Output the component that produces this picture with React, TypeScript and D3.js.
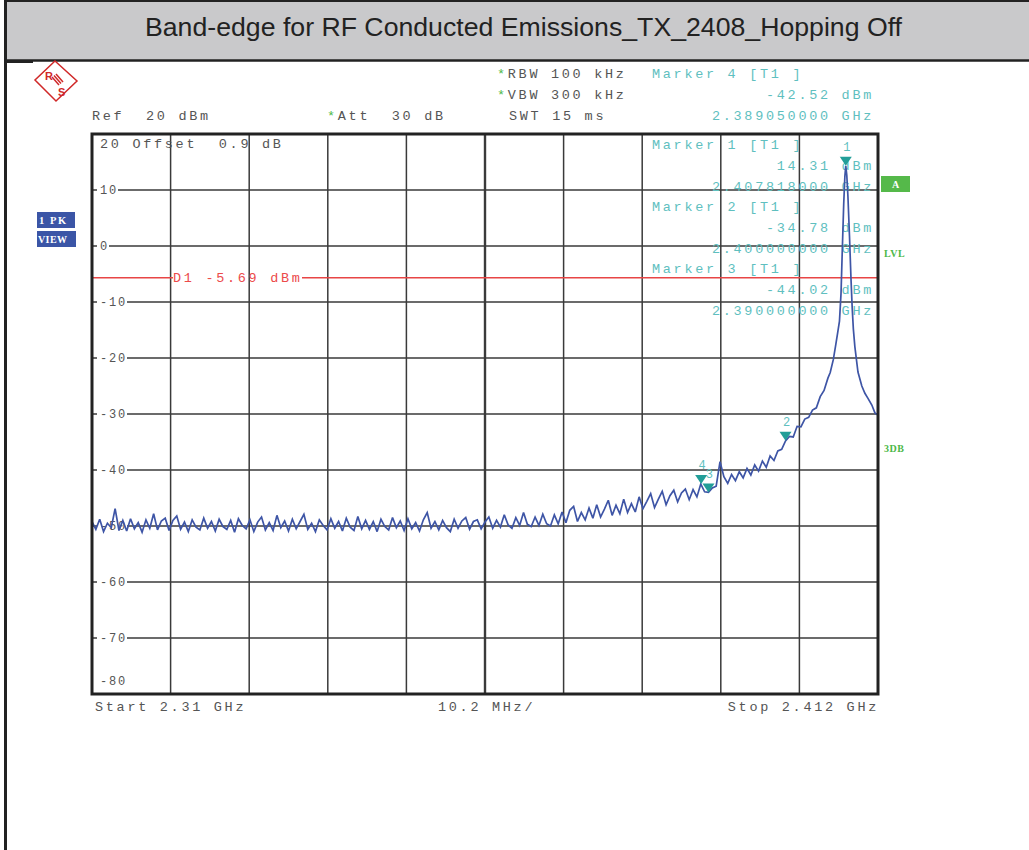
import * as d3 from 'd3';

// chart title and instrument settings
const title = 'Band-edge for RF Conducted Emissions_TX_2408_Hopping Off';
const headerLeft = ['Ref  20 dBm'];
const headerSettings = ['RBW 100 kHz', 'VBW 300 kHz'];
const attText = 'Att  30 dB';
const swtText = 'SWT 15 ms';
const offsetText = '20 Offset  0.9 dB';
const footer = ['Start 2.31 GHz', '10.2 MHz/', 'Stop 2.412 GHz'];

// frequency axis (MHz) and level axis (dBm)
const freqDomain = [2310, 2412];
const levelDomain = [-80, 20];
const gridFreqs = [2310, 2320.2, 2330.4, 2340.6, 2350.8, 2361, 2371.2, 2381.4, 2391.6, 2401.8, 2412];
const gridLevels = [10, 0, -10, -20, -30, -40, -50, -60, -70];

// trace: 0.5 MHz steps from 2310 MHz up to 2405.5 MHz
const startMHz = 2310;
const stepMHz = 0.5;
const noiseLevels = [
  -49.2, -50.6, -48.8, -51.0, -49.5, -50.3, -46.9, -50.8, -49.0, -50.9, -48.7, -50.5, -49.4, -51.1, -48.9, -50.4, -47.8, -50.7, -49.1, -48.6,
  -50.8, -49.0, -48.2, -50.6, -49.3, -51.0, -48.9, -50.2, -50.7, -48.6, -50.4, -49.2, -50.9, -48.8, -50.1, -50.6, -49.0, -51.1, -48.7, -49.9,
  -50.5, -48.9, -51.0, -49.3, -48.4, -50.7, -49.4, -50.8, -48.1, -50.3, -49.1, -50.9, -48.8, -50.5, -49.2, -47.9, -50.6, -49.5, -51.0, -48.9,
  -49.9, -50.7, -48.7, -50.4, -49.2, -50.9, -48.6, -50.2, -50.8, -48.3, -50.5, -49.0, -50.6, -49.2, -51.0, -48.8, -50.1, -50.7, -48.5, -50.3,
  -49.1, -50.8, -48.7, -50.5, -49.4, -50.9, -48.9, -47.6, -50.4, -49.2, -50.7, -49.0, -50.3, -51.0, -48.8, -50.4, -49.1, -48.5, -50.6, -49.2,
  -48.9, -50.5, -49.3, -48.4, -50.4, -49.0, -50.2, -48.0, -49.8, -50.4, -48.5, -49.9, -47.6, -49.7, -50.1, -48.4, -49.9, -47.9, -49.6, -50.0,
  -48.0, -49.6, -47.5, -49.4, -47.2, -46.5, -49.2, -47.6, -48.9, -46.8, -48.6, -46.2, -48.4, -47.0, -45.4, -48.1, -46.3, -47.8, -45.2, -47.6,
  -46.0, -47.5, -44.8, -46.9, -45.6, -44.2, -46.7, -45.2, -43.8, -46.2, -44.6, -43.6, -45.7, -44.1, -43.4, -45.3, -43.5, -44.8, -42.5, -43.9,
  -44.0, -43.2, -42.9, -38.5, -41.2, -42.4, -40.8, -41.9, -40.3, -41.4, -39.7, -40.9, -39.1, -40.2, -38.4, -39.5, -37.5, -38.3, -36.6, -36.3,
  -34.8, -34.0, -34.1, -32.2, -32.3, -30.9, -30.6, -29.3, -28.9, -26.9, -25.8, -23.6,
];
// carrier region, explicit frequencies
const peakFreqs = [2405.8, 2406.2, 2406.5, 2406.8, 2407.0, 2407.2, 2407.35, 2407.55, 2407.7, 2407.818, 2407.95, 2408.1, 2408.3, 2408.5, 2408.65, 2408.8, 2409.0, 2409.4, 2409.9, 2410.3, 2410.7, 2411.2, 2411.6, 2412.0];
const peakLevels = [-22.6, -20.3, -17.8, -15.2, -13.4, -8.5, -1.5, 7.5, 12.4, 14.31, 12.6, 8.8, 1.8, -6.0, -11.0, -14.8, -18.0, -22.5, -25.0, -26.3, -27.2, -28.4, -29.8, -30.2];

// markers
const markerIds = ['1', '2', '3', '4'];
const markerFreqs = [2407.818, 2400.0, 2390.0, 2389.05];
const markerLevels = [14.31, -34.78, -44.02, -42.52];
const displayLine = -5.69;

const MONO = '"Liberation Mono", "DejaVu Sans Mono", monospace';
const GRAY = '#555';
const TEAL = '#5fbfbf';
const GREEN = '#4cb848';

export default function App() {
  const left = 92, right = 878, top = 134, bottom = 694;
  const x = d3.scaleLinear().domain(freqDomain).range([left, right]);
  const y = d3.scaleLinear().domain(levelDomain).range([bottom, top]);

  const trace: [number, number][] = [
    ...noiseLevels.map((v, i) => [startMHz + i * stepMHz, v] as [number, number]),
    ...peakFreqs.map((f, i) => [f, peakLevels[i]] as [number, number]),
  ];
  const line = d3.line<[number, number]>().x(d => x(d[0])).y(d => y(d[1]));

  const txt = (extra: any = {}) => ({
    fontFamily: MONO, fontSize: 13.5, letterSpacing: 2.7, fill: GRAY, style: { whiteSpace: 'pre' as const }, ...extra,
  });
  const tick = { fontFamily: MONO, fontSize: 12, letterSpacing: 1.8, fill: GRAY };

  const fmtGHz = (f: number) => `${(f / 1000).toFixed(9)} GHz`;
  const fmtDbm = (v: number) => `${v.toFixed(2)} dBm`;

  // marker info block rows (markers 1..3 inside the grid)
  const infoRows = [0, 1, 2];

  const dY = y(displayLine);

  return (
    <svg width={1029} height={850} style={{ position: 'absolute', left: 0, top: 0, background: '#fff' }}>
      <defs>
        <clipPath id="pk"><rect x={37} y={212} width={38} height={36} /></clipPath>
      </defs>
      {/* title bar */}
      <rect x={6} y={0} width={1023} height={60} fill="#c9c9cb" />
      <line x1={6} x2={1029} y1={1} y2={1} stroke="#222" strokeWidth={2} />
      <line x1={6} x2={1029} y1={60.5} y2={60.5} stroke="#222" strokeWidth={2.5} />
      <rect x={6} y={60} width={27} height={3} fill="#222" />
      <line x1={5.5} x2={5.5} y1={0} y2={850} stroke="#222" strokeWidth={3} />
      <text x={145} y={36} textLength={757} lengthAdjust="spacingAndGlyphs"
        fontFamily='"Liberation Sans", Arial, sans-serif' fontSize={26} fill="#222">{title}</text>

      {/* R&S logo */}
      <g stroke="#d02828" fill="none" strokeWidth={1.5}>
        <path d="M55,61 L77,81 L56,101 L35,80 Z" />
        <line x1={52} y1={77} x2={59} y2={85} />
        <line x1={54} y1={75.5} x2={61} y2={83.5} />
        <line x1={56} y1={74} x2={63} y2={82} />
      </g>
      <text x={45} y={80} fontFamily='"Liberation Sans", sans-serif' fontWeight="bold" fontSize={11} fill="#d02828">R</text>
      <text x={58} y={96} fontFamily='"Liberation Sans", sans-serif' fontWeight="bold" fontSize={11} fill="#d02828">S</text>

      {/* header */}
      {headerSettings.map((s, i) => (
        <text key={s} x={497} y={78 + i * 21} {...txt()}>
          <tspan fill={GREEN}>*</tspan>{s}
        </text>
      ))}
      <text x={92} y={120} {...txt()}>{headerLeft[0]}</text>
      <text x={327} y={120} {...txt()}><tspan fill={GREEN}>*</tspan>{attText}</text>
      <text x={509} y={120} {...txt()}>{swtText}</text>
      <text x={652} y={78} {...txt({ fill: TEAL })}>{`Marker ${markerIds[3]} [T1 ]`}</text>
      <text x={874} y={99} textAnchor="end" {...txt({ fill: TEAL })}>{fmtDbm(markerLevels[3])}</text>
      <text x={874} y={120} textAnchor="end" {...txt({ fill: TEAL })}>{fmtGHz(markerFreqs[3])}</text>

      {/* left side boxes */}
      <rect x={37} y={212} width={38} height={16} fill="#3b55a6" />
      <rect x={37} y={231} width={39} height={16} fill="#3b55a6" />
      <g clipPath="url(#pk)">
        <text x={39} y={224} fontFamily='"Liberation Serif", serif' fontWeight="bold" fontSize={10.5} letterSpacing={1.6} fill="#fff" style={{ whiteSpace: 'pre' }}>1 PK</text>
      </g>
      <text x={38} y={243} fontFamily='"Liberation Serif", serif' fontWeight="bold" fontSize={10} letterSpacing={0.4} fill="#fff">VIEW</text>

      {/* right side indicators */}
      <rect x={881} y={176} width={29} height={16} fill="#55b94a" />
      <text x={895.5} y={188} textAnchor="middle" fontFamily='"Liberation Serif", serif' fontWeight="bold" fontSize={10} fill="#fff">A</text>
      <text x={884} y={257} fontFamily='"Liberation Serif", serif' fontWeight="bold" fontSize={10} letterSpacing={0.5} fill={GREEN}>LVL</text>
      <text x={884} y={452} fontFamily='"Liberation Serif", serif' fontWeight="bold" fontSize={10} letterSpacing={0.5} fill={GREEN}>3DB</text>

      {/* vertical grid */}
      {gridFreqs.slice(1, -1).map((f, i) => (
        <line key={'v' + f} x1={x(f)} x2={x(f)} y1={top} y2={bottom}
          stroke="#3a3a3a" strokeWidth={i === 4 ? 2.4 : 1.5} />
      ))}
      {/* horizontal grid with labels */}
      {gridLevels.map(v => {
        const s = String(v);
        const yy = y(v);
        return (
          <g key={'h' + v}>
            <line x1={left} x2={right} y1={yy} y2={yy} stroke="#3a3a3a" strokeWidth={1.5} />
            <rect x={97} y={yy - 6} width={s.length * 9 + 3} height={12} fill="#fff" />
            <text x={100} y={yy + 4} {...tick}>{s}</text>
          </g>
        );
      })}
      <text x={100} y={685} {...tick}>{String(levelDomain[0])}</text>
      <text x={100} y={148} {...txt()}>{offsetText}</text>

      {/* display line D1 */}
      <line x1={left} x2={173} y1={dY} y2={dY} stroke="#e84545" strokeWidth={1.5} />
      <line x1={302} x2={right} y1={dY} y2={dY} stroke="#e84545" strokeWidth={1.5} />
      <text x={173} y={dY + 4} {...txt({ fill: '#ec4a4a' })}>{`D1 ${displayLine.toFixed(2)} dBm`}</text>

      {/* marker info 1..3 */}
      {infoRows.map(i => (
        <g key={'info' + i}>
          <text x={652} y={149 + i * 62} {...txt({ fill: TEAL })}>{`Marker ${markerIds[i]} [T1 ]`}</text>
          <text x={874} y={170 + i * 62} textAnchor="end" {...txt({ fill: TEAL })}>{fmtDbm(markerLevels[i])}</text>
          <text x={874} y={191 + i * 62} textAnchor="end" {...txt({ fill: TEAL })}>{fmtGHz(markerFreqs[i])}</text>
        </g>
      ))}

      {/* trace */}
      <path d={line(trace) || ''} fill="none" stroke="#3e55a6" strokeWidth={1.7} strokeLinejoin="miter" strokeMiterlimit={3} />

      {/* markers */}
      {markerIds.map((id, i) => {
        const mx = x(markerFreqs[i]);
        const my = y(markerLevels[i]);
        return (
          <g key={'m' + id}>
            <path d={`M${mx - 6},${my - 9} L${mx + 6},${my - 9} L${mx},${my} Z`} fill="#229e98" />
            <text x={mx + 1} y={my - 15} textAnchor="middle" fontFamily={MONO} fontSize={12} fill={TEAL}>{id}</text>
          </g>
        );
      })}

      {/* border */}
      <rect x={left} y={top} width={right - left} height={bottom - top} fill="none" stroke="#222" strokeWidth={3} />

      {/* footer */}
      <text x={95} y={711} {...txt()}>{footer[0]}</text>
      <text x={438} y={711} {...txt()}>{footer[1]}</text>
      <text x={879} y={711} textAnchor="end" {...txt()}>{footer[2]}</text>
    </svg>
  );
}
